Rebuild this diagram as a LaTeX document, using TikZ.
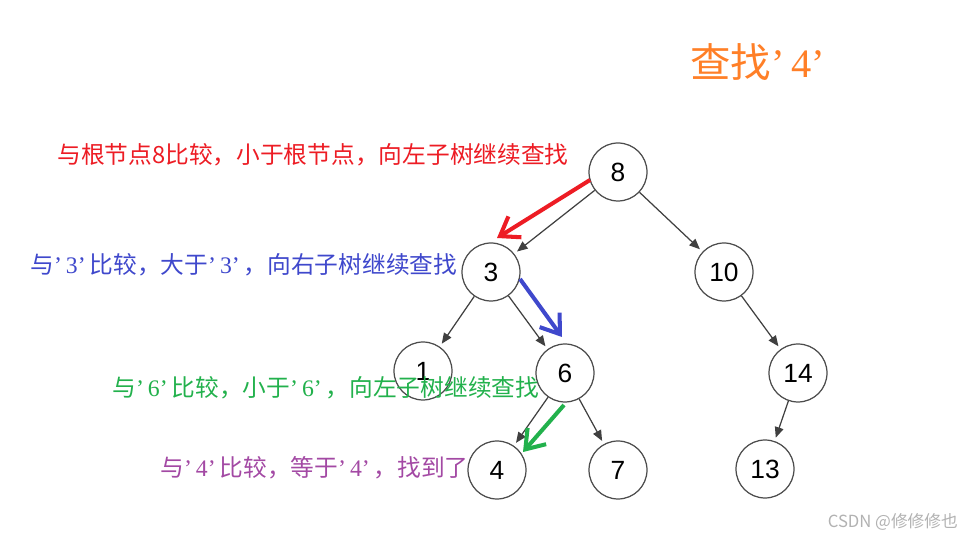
\documentclass[tikz,border=0pt]{standalone}
\usepackage{fontspec}
\newfontfamily\cjk{Noto Sans CJK SC}
\newfontfamily\numfont{Liberation Sans}
\newfontfamily\qfont{Liberation Serif}
\usetikzlibrary{arrows.meta}
\definecolor{hintred}{HTML}{ED1C24}
\definecolor{hintblue}{HTML}{3F48CC}
\definecolor{hintgreen}{HTML}{22B14C}
\definecolor{hintpurple}{HTML}{A349A4}
\definecolor{hintorange}{HTML}{FF7F27}
\newcommand{\qkey}[1]{{\qfont ’\,#1’\,}}
\begin{document}
\begin{tikzpicture}[x=0.02cm, y=-0.02cm,
  key/.style={circle, draw=black!70, line width=0.7pt, minimum size=1.16cm, inner sep=0pt, font=\numfont\fontsize{15}{15}\selectfont},
  edge/.style={draw=black!75, line width=0.7pt, -{Triangle[length=6pt,width=5pt]}, shorten >=2pt},
  hint/.style={line width=2.3pt, -{Straight Barb[length=10pt,width=14pt]}},
  say/.style={anchor=west, inner sep=0pt, font=\cjk\fontsize{13.5}{15}\selectfont}]
\useasboundingbox (0,0) rectangle (968,540);
\fill[white] (0,0) rectangle (968,540);
% keys of the tree
\foreach \k/\x/\y in {8/618/172, 3/491/272, 10/724/272, 1/423/371, 6/565/373,
                      14/798/373, 4/497/470, 7/618/470, 13/765/469}
  \node[key] (n\k) at (\x,\y) {\k};
\foreach \a/\b in {8/3, 8/10, 3/1, 3/6, 10/14, 6/4, 6/7, 14/13}
  \draw[edge] (n\a) -- (n\b);
% search path
\coordinate (r0) at (590,180);  \coordinate (r1) at (497,238);
\coordinate (b0) at (520,279);  \coordinate (b1) at (562,337);
\coordinate (g0) at (564,405);  \coordinate (g1) at (523,452);
\draw[hint, hintred] (r0) -- (r1);
\draw[hint, hintblue] (b0) -- (b1);
\draw[hint, hintgreen] (g0) -- (g1);
% notes
\node[anchor=west, inner sep=0pt, text=hintorange, font=\cjk\fontsize{23}{24}\selectfont] (title) at (690,62) {查找{\qfont ’\,4’}};
\node[say, text=hintred] (s8) at (57,155) {与根节点8比较，小于根节点，向左子树继续查找};
\node[say, text=hintblue] (s3) at (30,265) {与\qkey{3}比较，大于\qkey{3}，向右子树继续查找};
\node[say, text=hintgreen] (s6) at (112,388) {与\qkey{6}比较，小于\qkey{6}，向左子树继续查找};
\node[say, text=hintpurple] (s4) at (160,468) {与\qkey{4}比较，等于\qkey{4}，找到了};
\node[anchor=east, text=black!30, font=\cjk\fontsize{9.5}{10}\selectfont] (mark) at (964,522) {CSDN @修修修也};
\end{tikzpicture}
\end{document}
